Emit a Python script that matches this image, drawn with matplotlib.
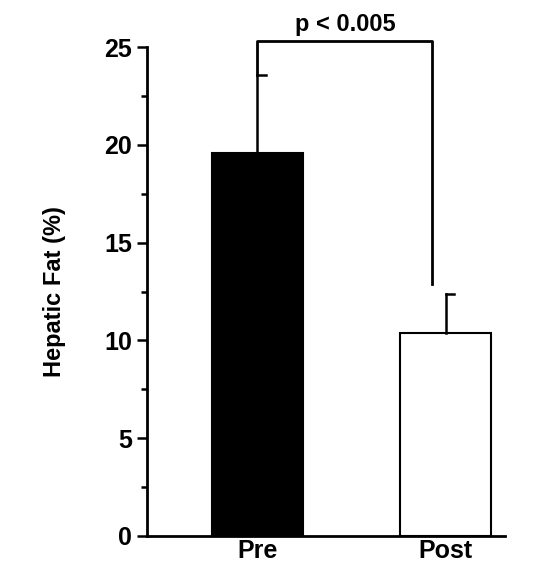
import matplotlib
matplotlib.use('Agg')
import matplotlib.pyplot as plt
from matplotlib.ticker import MultipleLocator

labels = ['Pre', 'Post']
values = [19.6, 10.4]
errors = [4.0, 2.0]
bar_colors = ['black', 'white']

plt.rcParams['font.family'] = ['Liberation Sans', 'DejaVu Sans']
plt.rcParams['font.weight'] = 'bold'

fig = plt.figure(figsize=(5.46, 5.69), dpi=100)
ax = fig.add_axes([0.269, 0.058, 0.656, 0.859])

x = [0, 1]
ax.bar(x, values, width=0.48, color=bar_colors, edgecolor='black', linewidth=1.5)
# error bars: upper only, half cap to the right
for xi, v, e in zip(x, values, errors):
    ax.plot([xi, xi], [v, v + e], color='black', lw=1.8)
    ax.plot([xi, xi + 0.045], [v + e, v + e], color='black', lw=1.8)

# significance bracket
ytop = 25.3
ax.plot([0, 0, 0.93, 0.93], [values[0] + errors[0], ytop, ytop, 12.9],
        color='black', lw=2, clip_on=False)
ax.text(0.465, ytop + 0.25, 'p < 0.005', ha='center', va='bottom',
        fontsize=17, fontweight='bold')

ax.set_xlim(-0.588, 1.316)
ax.set_ylim(0, 25)
ax.set_xticks(x)
ax.set_xticklabels(labels, fontsize=18, fontweight='bold')
ax.yaxis.set_major_locator(MultipleLocator(5))
ax.yaxis.set_minor_locator(MultipleLocator(2.5))
ax.tick_params(axis='y', labelsize=18, width=1.8, length=7)
ax.tick_params(axis='y', which='minor', width=1.8, length=4)
ax.tick_params(axis='x', length=0, pad=2)
ax.set_ylabel('Hepatic Fat (%)', fontsize=17, fontweight='bold', labelpad=28)
for s in ['top', 'right']:
    ax.spines[s].set_visible(False)
for s in ['left', 'bottom']:
    ax.spines[s].set_linewidth(2)

fig.savefig('out.png', dpi=100)
